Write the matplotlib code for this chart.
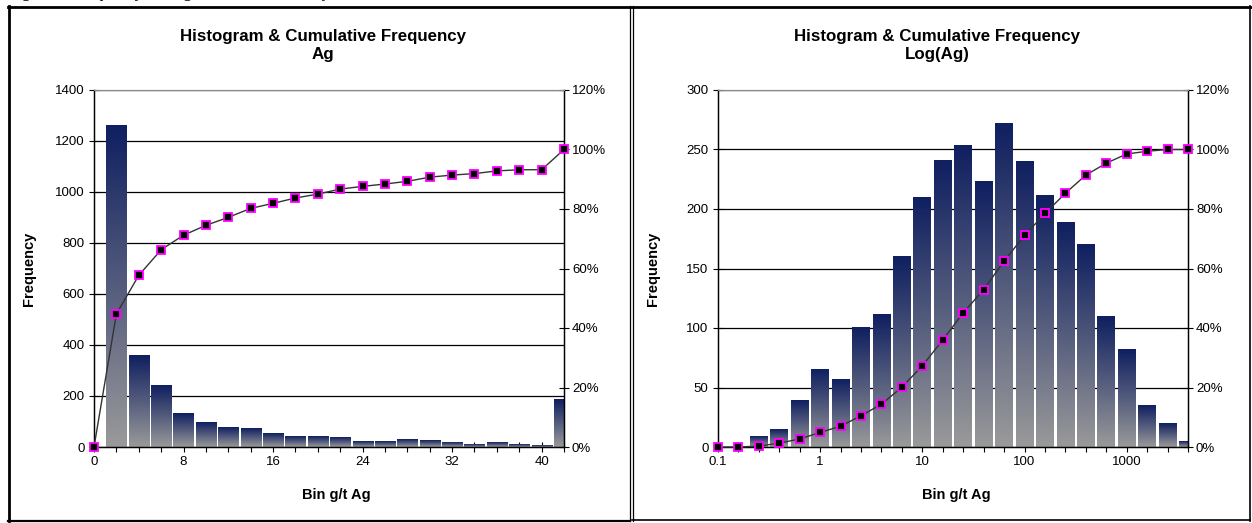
import numpy as np
import matplotlib
matplotlib.use('Agg')
import matplotlib.pyplot as plt
from matplotlib.colors import LinearSegmentedColormap
from matplotlib.ticker import FixedLocator, FuncFormatter, NullFormatter

plt.rcParams['font.family'] = ['Liberation Sans', 'DejaVu Sans']

# --- left chart: Ag, linear bins (g/t) ---
ag_bar_bins = [2, 4, 6, 8, 10, 12, 14, 16, 18, 20, 22, 24, 26, 28, 30, 32, 34, 36, 38, 40, 42]
ag_freq = [1260, 360, 240, 130, 97, 77, 72, 52, 42, 42, 38, 21, 21, 31, 26, 16, 10, 16, 10, 5, 188]
ag_cum_bins = [0, 2, 4, 6, 8, 10, 12, 14, 16, 18, 20, 22, 24, 26, 28, 30, 32, 34, 36, 38, 40, 42]
ag_cum = [0, 44.7, 57.7, 66.3, 71.2, 74.5, 77.2, 80.2, 81.9, 83.7, 85.0, 86.7,
          87.6, 88.4, 89.3, 90.7, 91.4, 91.9, 92.8, 93.2, 93.2, 100]

# --- right chart: Log(Ag), log bins (g/t) ---
log_bins = [0.1, 0.158, 0.251, 0.398, 0.631, 1, 1.585, 2.512, 3.981, 6.31, 10, 15.85,
            25.12, 39.81, 63.1, 100, 158.5, 251.2, 398.1, 631, 1000, 1585, 2512, 3981]
log_freq = [0, 0, 9, 15, 39, 65, 57, 100, 111, 160, 210, 241,
            253, 223, 272, 240, 211, 189, 170, 110, 82, 35, 20, 5]
log_cum = [0, 0, 0.3, 1.3, 2.7, 4.9, 7.0, 10.5, 14.4, 20.1, 27.3, 36.0,
           45.1, 52.9, 62.5, 71.1, 78.5, 85.3, 91.4, 95.4, 98.5, 99.4, 100, 100]

log_tick_vals = [0.1, 1, 10, 100, 1000]
log_tick_labels = ['0.1', '1', '10', '100', '1000']

W, H = 1252, 523
fig = plt.figure(figsize=(W / 100, H / 100), dpi=100)

cmap = LinearSegmentedColormap.from_list('barfill', ['#9a9a9a', '#0f1f60'])
grad = np.linspace(1, 0, 256).reshape(-1, 1)


def px_axes(x0, y0, x1, y1):
    return fig.add_axes([x0 / W, (H - y1) / H, (x1 - x0) / W, (y1 - y0) / H])


def draw_chart(ax, xbar, freq, width, xcum, cum, ymax, ystep):
    bars = ax.bar(xbar, freq, width=width, color='none', edgecolor='none', zorder=2)
    for b in bars:
        h = b.get_height()
        if h <= 0:
            continue
        x0 = b.get_x()
        ax.imshow(grad, extent=[x0, x0 + b.get_width(), 0, h], origin='upper',
                  aspect='auto', cmap=cmap, vmin=0, vmax=1, zorder=2, clip_on=True)
    ax.set_ylim(0, ymax)
    ax.yaxis.set_major_locator(FixedLocator(np.arange(0, ymax + 1, ystep)))
    ax.yaxis.grid(True, color='black', lw=0.9)
    ax.set_axisbelow(True)
    ax.tick_params(direction='inout', length=6.5, width=0.8, labelsize=9.5, pad=3.5,
                   colors='black')
    ax.tick_params(which='minor', direction='inout', length=6.5, width=0.8)
    ax.set_ylabel('Frequency', fontsize=10.5, fontweight='bold')
    ax.yaxis.set_label_coords(-0.1234, 0.5)

    ax2 = ax.twinx()
    ax2.plot(xcum, cum, color='#333333', lw=1.0, marker='s', ms=5.5,
             mfc='black', mec='#ff00ff', mew=1.3, clip_on=False, zorder=5)
    ax2.set_ylim(0, 120)
    ax2.yaxis.set_major_locator(FixedLocator(np.arange(0, 121, 20)))
    ax2.yaxis.set_major_formatter(FuncFormatter(lambda v, p: f'{v:.0f}%'))
    ax2.tick_params(direction='inout', length=6.5, width=0.8, labelsize=9.5, pad=2.5,
                    colors='black')
    for a in (ax, ax2):
        a.spines['top'].set_color('#8c8c8c')
        a.spines['top'].set_linewidth(0.8)
        for s in ('left', 'right', 'bottom'):
            a.spines[s].set_linewidth(0.9)
    return ax2


# left chart
axL = px_axes(94, 90, 564, 447)
draw_chart(axL, ag_bar_bins, ag_freq, 1.8, ag_cum_bins, ag_cum, 1400, 200)
axL.set_xlim(0, 42)
axL.xaxis.set_major_locator(FixedLocator([0, 8, 16, 24, 32, 40]))
axL.xaxis.set_minor_locator(FixedLocator(ag_cum_bins))
axL.set_xlabel('Bin g/t Ag', fontsize=10.5, fontweight='bold')
axL.xaxis.set_label_coords(0.515, -0.115)

# right chart (log10 positions on a linear axis)
lx = np.log10(log_bins)
axR = px_axes(718, 90, 1188, 447)
draw_chart(axR, lx, log_freq, 0.174, lx, log_cum, 300, 50)
axR.set_xlim(lx[0], lx[-1])
axR.xaxis.set_major_locator(FixedLocator(np.log10(log_tick_vals)))
axR.xaxis.set_major_formatter(FuncFormatter(
    lambda v, p: log_tick_labels[int(round(v)) + 1] if -1 <= round(v) <= 3 else ''))
axR.xaxis.set_minor_locator(FixedLocator(lx))
axR.xaxis.set_minor_formatter(NullFormatter())
axR.set_xlabel('Bin g/t Ag', fontsize=10.5, fontweight='bold')
axR.xaxis.set_label_coords(0.508, -0.115)

# titles
for cx, sub in ((323, 'Ag'), (937, 'Log(Ag)')):
    fig.text(cx / W, 1 - 36 / H, 'Histogram & Cumulative Frequency', ha='center',
             va='center', fontsize=12.2, fontweight='bold')
    fig.text(cx / W, 1 - 55 / H, sub, ha='center', va='center', fontsize=12.2,
             fontweight='bold')

# page frame / table borders
ov = fig.add_axes([0, 0, 1, 1], zorder=10)
ov.set_xlim(0, W)
ov.set_ylim(H, 0)
ov.axis('off')
ov.patch.set_alpha(0)
ov.text(8, -3, 'Figure 1: Frequency Histograms of Silver Assays', fontsize=12,
        family='Liberation Serif', va='baseline', ha='left', clip_on=False)
ov.plot([8, W], [6.5, 6.5], color='black', lw=2.0)
ov.plot([8.5, 8.5], [6, 521], color='black', lw=2.0)
ov.plot([8, 630], [520.5, 520.5], color='black', lw=1.6)
ov.plot([629.5, 629.5], [6, 521], color='black', lw=0.9)
ov.plot([632.5, 632.5], [6, 521], color='black', lw=0.9)
ov.plot([632, 1250], [520, 520], color='black', lw=1.2)
ov.plot([1249.5, 1249.5], [6, 521], color='black', lw=1.2)

fig.savefig('out.png', dpi=100)
